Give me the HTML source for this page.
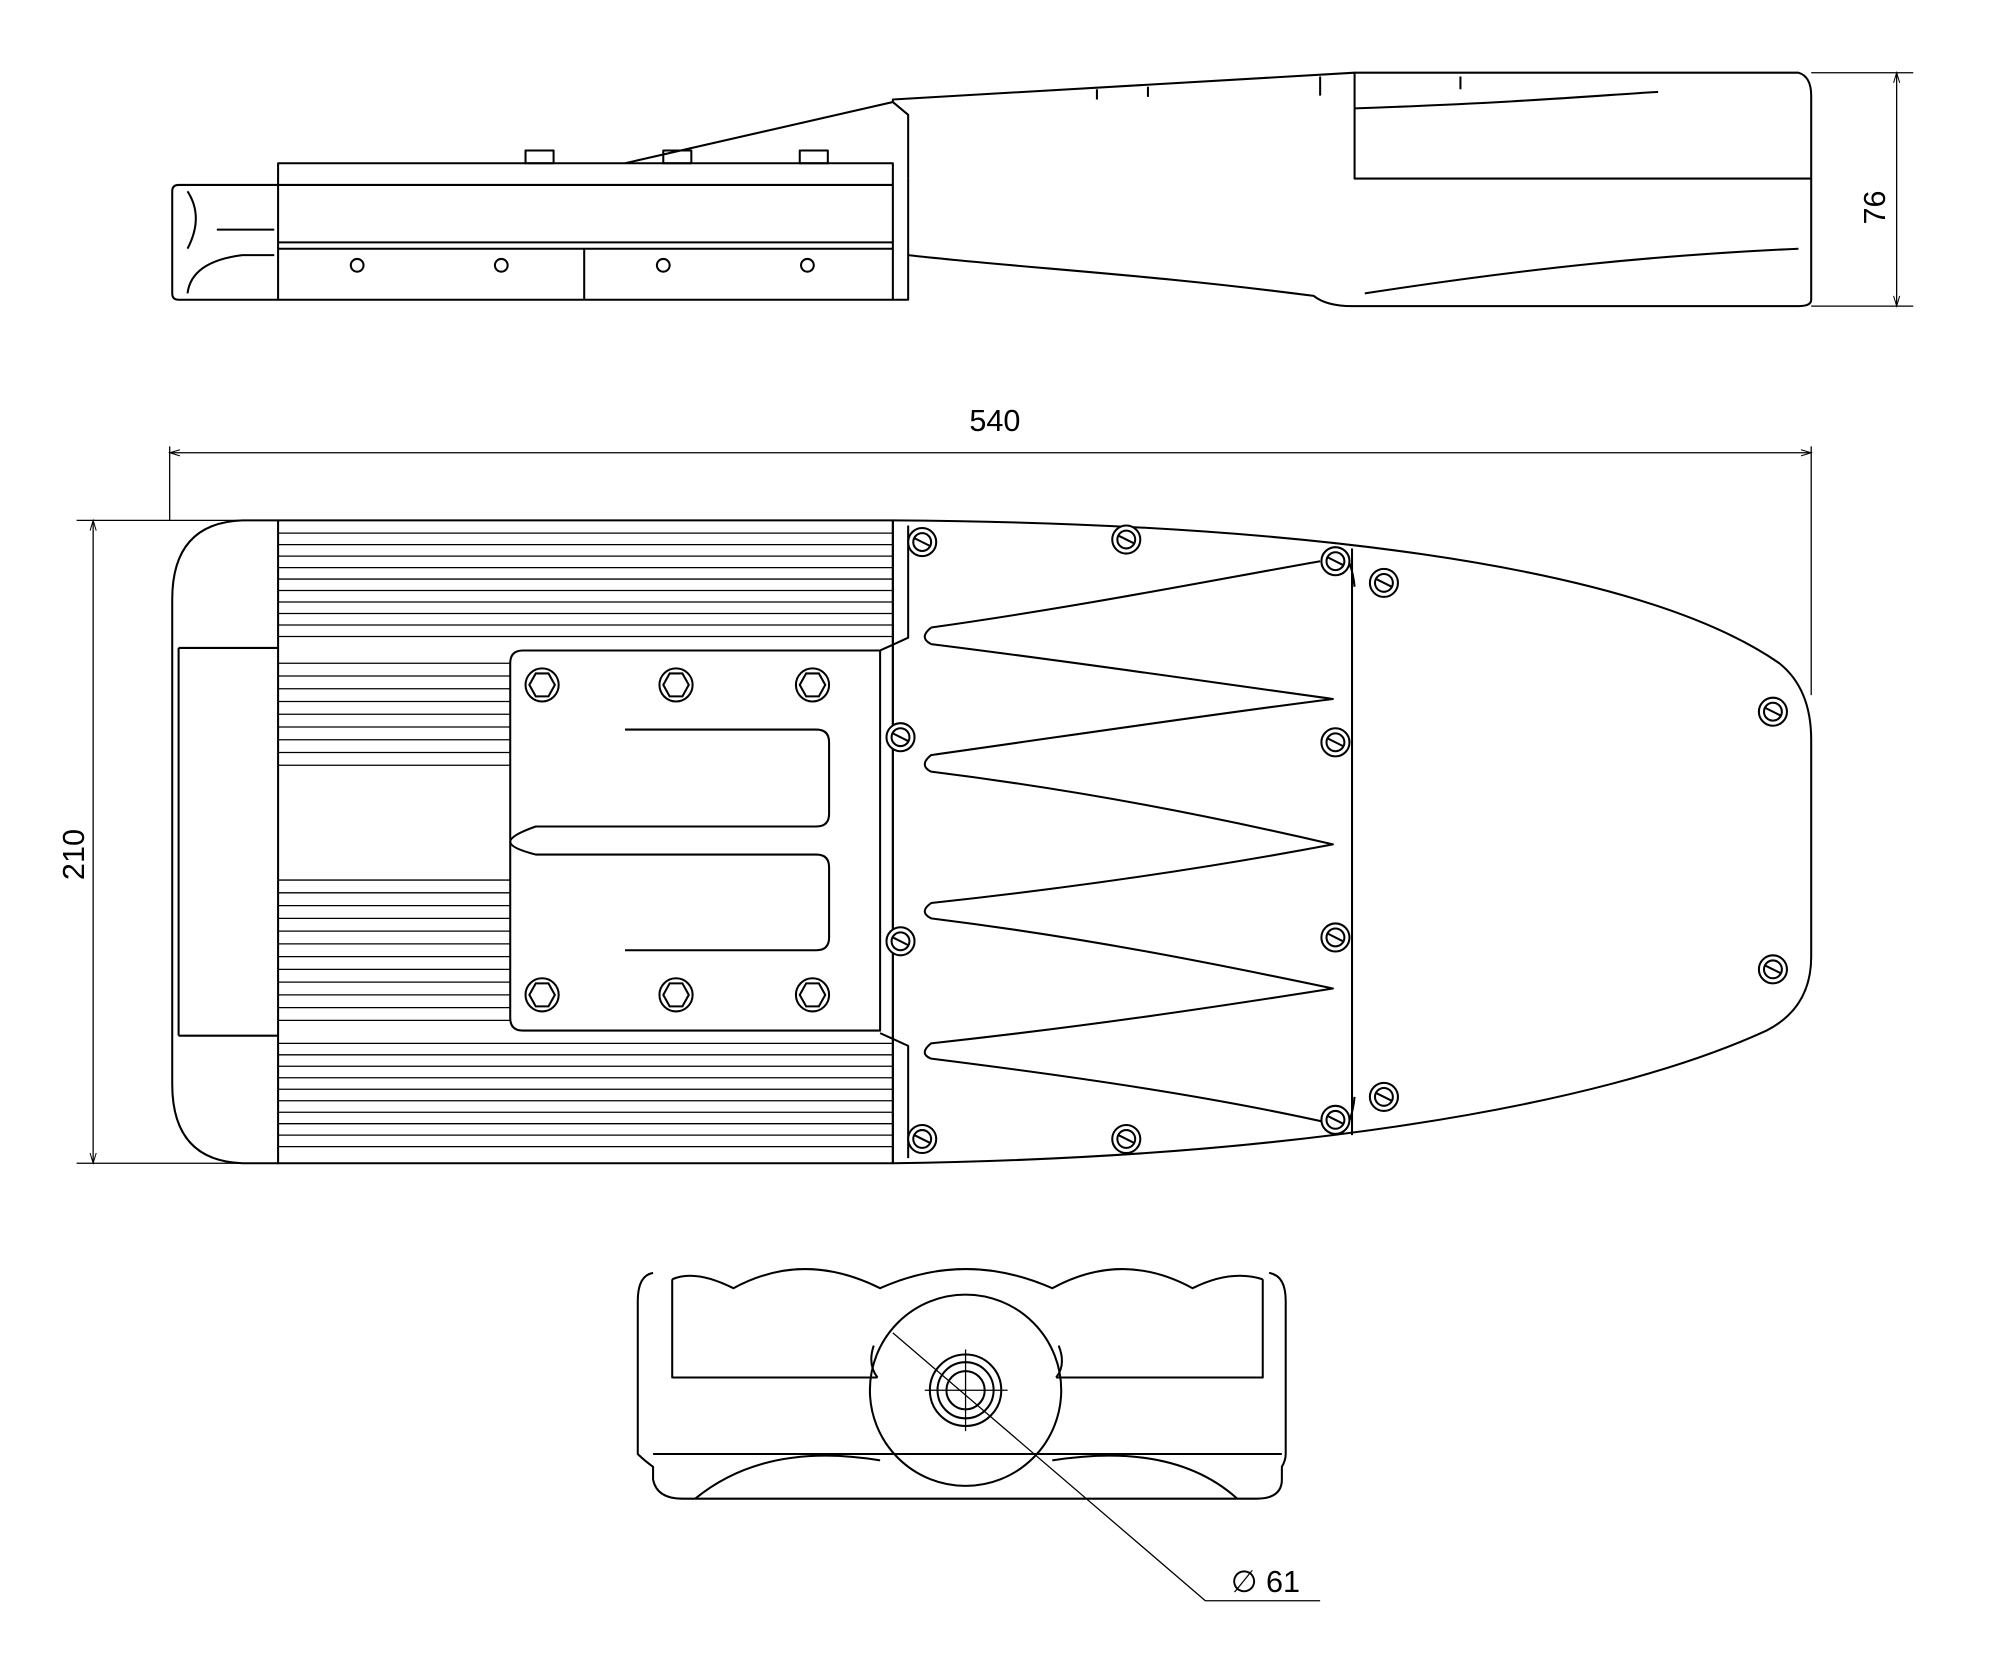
<!DOCTYPE html>
<html><head><meta charset="utf-8"><style>
html,body{margin:0;padding:0;background:#fff;width:2000px;height:1653px;overflow:hidden}
svg{display:block}
text{font-family:"Liberation Sans",sans-serif;font-size:24px;fill:#000}
</style></head><body>
<svg width="2000" height="1653" viewBox="0 0 1568 1296" xmlns="http://www.w3.org/2000/svg">
<defs><marker id="a" viewBox="0 0 10 10" refX="10" refY="5" markerWidth="14" markerHeight="8" orient="auto-start-reverse" markerUnits="userSpaceOnUse"><path d="M0,2 L10,5 L0,8" fill="none" stroke="#000" stroke-width="1"/></marker>
<g id="sc" fill="#fff" stroke="#000" stroke-width="1.6"><circle r="11"/><circle r="7"/><line x1="-6" y1="-3" x2="6" y2="3"/></g>
<g id="hx" fill="#fff" stroke="#000" stroke-width="1.6"><circle r="13"/><polygon points="-10,0 -5,-9 5,-9 10,0 5,9 -5,9"/></g>
</defs>
<g fill="none" stroke="#000" stroke-width="1.6" stroke-linejoin="round">
<!-- SIDE VIEW -->
<path d="M218,145 H140 Q135,145 135,150 V230 Q135,235 140,235 H218"/>
<path d="M147,150 Q160,170 147,195 M147,230 Q150,205 190,200 H215 M170,180 H215"/>
<rect x="218" y="128" width="482" height="107"/>
<path d="M218,145 H700 M218,190 H700 M218,195 H700 M458,195 V235 M700,235 H712 V140"/>
<path d="M490,128 L700,80 L700,78 L1062,57 M700,80 L712,90 V140"/>
<rect x="412" y="118" width="22" height="10"/><rect x="520" y="118" width="22" height="10"/><rect x="627" y="118" width="22" height="10"/>
<circle cx="280" cy="208" r="5"/><circle cx="393" cy="208" r="5"/><circle cx="520" cy="208" r="5"/><circle cx="633" cy="208" r="5"/>
<path d="M1062,57 H1410 Q1420,60 1420,75 V140 H1062 Z"/>
<path d="M1420,140 V235 Q1420,240 1410,240 H1060 Q1040,240 1030,232 C900,215 800,210 712,200"/>
<path d="M1062,85 C1200,80 1250,75 1300,72 M1070,230 C1200,210 1300,200 1410,195 M860,70 V78 M900,68 V76 M1035,60 V75 M1145,60 V70"/>
<path d="M1420,57 H1500 M1420,240 H1500" stroke-width="1"/>
<line x1="1487" y1="57" x2="1487" y2="240" marker-start="url(#a)" marker-end="url(#a)" stroke-width="1"/>
<!-- PLAN VIEW -->
<path d="M133,350 V408 M1420,350 V545 M60,408 H218 M60,912 H218" stroke-width="1"/>
<line x1="133" y1="355" x2="1420" y2="355" marker-start="url(#a)" marker-end="url(#a)" stroke-width="1"/>
<line x1="73" y1="408" x2="73" y2="912" marker-start="url(#a)" marker-end="url(#a)" stroke-width="1"/>
<path d="M218,408 H190 Q135,410 135,470 V850 Q135,910 190,912 H218"/>
<path d="M140,508 H218 M140,812 H218 M140,508 V812"/>
<rect x="218" y="408" width="482" height="504"/>
<path stroke-width="1" d="M218,418H700M218,427H700M218,436H700M218,445H700M218,454H700M218,463H700M218,472H700M218,481H700M218,490H700M218,499H700M218,818H700M218,827H700M218,836H700M218,845H700M218,854H700M218,863H700M218,872H700M218,881H700M218,890H700M218,899H700M218,520H400M218,530H400M218,540H400M218,550H400M218,560H400M218,570H400M218,580H400M218,590H400M218,600H400M218,690H400M218,700H400M218,710H400M218,720H400M218,730H400M218,740H400M218,750H400M218,760H400M218,770H400M218,780H400M218,790H400M218,800H400"/>
<path d="M700,408 V912 M712,412 V500 L690,510 M712,908 V820 L690,810"/>
<path d="M700,408 C1000,410 1280,440 1395,520 Q1420,540 1420,580 V750 Q1420,790 1385,808 C1250,870 1000,908 700,912"/>
<path d="M1060,430 V890 M1052,432 Q1060,440 1062,460 M1052,888 Q1060,880 1062,860"/>
<path d="M400,520 Q400,510 410,510 H690 V808 H410 Q400,808 400,798 Z"/>
<path d="M490,572 H640 Q650,572 650,582 V638 Q650,648 640,648 H420 Q400,655 400,660 M490,745 H640 Q650,745 650,735 V680 Q650,670 640,670 H420 Q400,665 400,660"/>
<path d="M730,492 Q720,500 730,505 C850,520 950,535 1045,548 C950,560 850,575 730,592 Q720,600 730,605 C850,620 950,640 1045,662 C950,680 850,695 730,708 Q720,715 730,720 C850,735 950,755 1045,775 C950,790 850,805 730,818 Q720,826 730,830 C850,845 950,860 1040,880"/>
<path d="M730,492 C850,475 950,455 1035,440"/>
<!-- BOTTOM VIEW -->
<path d="M512,998 Q500,1000 500,1020 V1140 Q505,1145 512,1150 V1160 Q515,1175 535,1175 H985 Q1005,1175 1005,1160 V1150 Q1008,1145 1008,1140 V1020 Q1008,1000 995,998"/>
<path d="M527,1003 V1080 H688 M828,1080 H990 V1003 M527,1003 Q545,995 575,1010 Q630,980 690,1010 Q757,980 825,1010 Q880,980 935,1010 Q965,995 990,1003"/>
<path d="M512,1140 H1005 M545,1175 Q600,1130 690,1145 M970,1175 Q920,1130 825,1145"/>
<circle cx="757" cy="1090" r="75"/>
<path d="M688,1080 Q680,1070 685,1055 M828,1080 Q836,1070 830,1055"/>
<circle cx="757" cy="1090" r="28"/><circle cx="757" cy="1090" r="22"/><circle cx="757" cy="1090" r="15"/>
<path d="M725,1090 H790 M757,1058 V1122" stroke-width="1"/>
<path d="M700,1045 L945,1255 H1035" stroke-width="1"/>
</g>
<use href="#sc" x="723" y="425"/><use href="#sc" x="883" y="423"/><use href="#sc" x="1047" y="440"/><use href="#sc" x="1085" y="457"/>
<use href="#sc" x="1390" y="558"/><use href="#sc" x="706" y="578"/><use href="#sc" x="1047" y="582"/><use href="#sc" x="706" y="738"/>
<use href="#sc" x="1047" y="735"/><use href="#sc" x="1390" y="760"/><use href="#sc" x="1085" y="860"/><use href="#sc" x="1047" y="878"/>
<use href="#sc" x="723" y="893"/><use href="#sc" x="883" y="893"/>
<use href="#hx" x="425" y="537"/><use href="#hx" x="530" y="537"/><use href="#hx" x="637" y="537"/>
<use href="#hx" x="425" y="780"/><use href="#hx" x="530" y="780"/><use href="#hx" x="637" y="780"/>
<text x="760" y="338">540</text>
<text transform="translate(1478,176) rotate(-90)">76</text>
<text transform="translate(66,690) rotate(-90)">210</text>
<text x="965" y="1248" font-size="26">∅ 61</text>
</svg>
</body></html>
